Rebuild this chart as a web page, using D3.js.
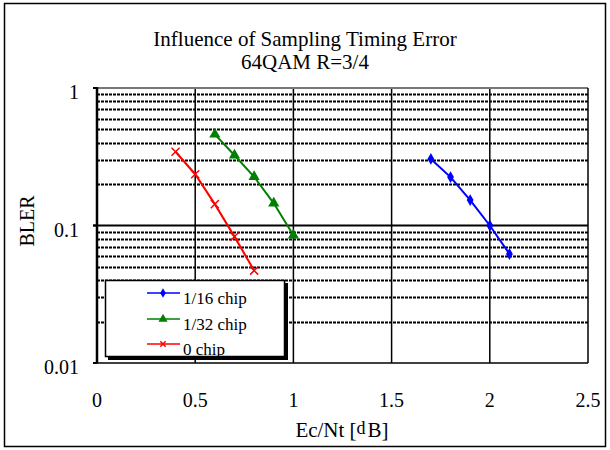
<!DOCTYPE html>
<html>
<head>
<meta charset="utf-8" />
<script src="https://d3js.org/d3.v7.min.js"></script>
<style>
  body, html { margin: 0; padding: 0; background: #fff; }
</style>
</head>
<body>
<div id="chart"></div>
<script>
// data
const xTicks = [0, 0.5, 1, 1.5, 2, 2.5];
const yTicks = [0.01, 0.1, 1];
const yTickLabels = ["0.01", "0.1", "1"];

const seriesNames = ["1/16 chip", "1/32 chip", "0 chip"];
const seriesColors = ["#0000ff", "#008000", "#ff0000"];
const seriesShapes = ["diamond", "triangle", "cross"];

const x16 = [1.7, 1.8, 1.9, 2.0, 2.1];
const y16 = [0.305, 0.225, 0.153, 0.100, 0.062];
const x32 = [0.6, 0.7, 0.8, 0.9, 1.0];
const y32 = [0.46, 0.324, 0.226, 0.145, 0.085];
const x0 = [0.4, 0.5, 0.6, 0.7, 0.8];
const y0 = [0.344, 0.236, 0.143, 0.083, 0.047];

const series = [
    { name: seriesNames[0], color: seriesColors[0], shape: seriesShapes[0], pts: x16.map((v, i) => [v, y16[i]]) },
    { name: seriesNames[1], color: seriesColors[1], shape: seriesShapes[1], pts: x32.map((v, i) => [v, y32[i]]) },
    { name: seriesNames[2], color: seriesColors[2], shape: seriesShapes[2], pts: x0.map((v, i) => [v, y0[i]]) },
];

const W = 610, H = 450;
const pLeft = 97, pRight = 588, pTop = 88, pBottom = 363;
const FONT = "'Liberation Serif', 'Times New Roman', 'DejaVu Serif', serif";

const svg = d3.select("#chart").append("svg")
    .attr("width", W).attr("height", H)
    .attr("font-family", FONT);

// outer frame
svg.append("rect")
    .attr("x", 4.5).attr("y", 3.5)
    .attr("width", 601).attr("height", 443)
    .attr("fill", "#fff").attr("stroke", "#000").attr("stroke-width", 1.5);

const x = d3.scaleLinear().domain([0, 2.5]).range([pLeft, pRight]);
const y = d3.scaleLog().domain([0.01, 1]).range([pBottom, pTop]);

// title
svg.append("text").attr("x", 305).attr("y", 46).attr("text-anchor", "middle")
    .attr("font-size", 21).text("Influence of Sampling Timing Error");
svg.append("text").attr("x", 305).attr("y", 69).attr("text-anchor", "middle")
    .attr("font-size", 21).text("64QAM R=3/4");

const grid = svg.append("g");

// minor horizontal dashed gridlines
const minor = [];
[0.01, 0.1].forEach(dec => {
    for (let k = 2; k <= 9; k++) minor.push(dec * k);
});
grid.selectAll("line.minor").data(minor).enter().append("line")
    .attr("class", "minor")
    .attr("x1", pLeft).attr("x2", pRight)
    .attr("y1", d => Math.round(y(d)) + 0.5).attr("y2", d => Math.round(y(d)) + 0.5)
    .attr("stroke", "#000").attr("stroke-width", 2)
    .attr("stroke-dasharray", "3,1");

// major horizontal line at 0.1
grid.append("line")
    .attr("x1", pLeft - 4).attr("x2", pRight)
    .attr("y1", y(0.1)).attr("y2", y(0.1))
    .attr("stroke", "#000").attr("stroke-width", 2);

// vertical gridlines
grid.selectAll("line.v").data(xTicks.slice(1, -1)).enter().append("line")
    .attr("class", "v")
    .attr("x1", d => x(d)).attr("x2", d => x(d))
    .attr("y1", pTop).attr("y2", pBottom)
    .attr("stroke", "#000").attr("stroke-width", 1.5);

// plot borders
grid.append("line").attr("x1", pLeft).attr("x2", pRight).attr("y1", pTop).attr("y2", pTop)
    .attr("stroke", "#777").attr("stroke-width", 2);
grid.append("line").attr("x1", pRight).attr("x2", pRight).attr("y1", pTop).attr("y2", pBottom)
    .attr("stroke", "#000").attr("stroke-width", 1.5);
grid.append("line").attr("x1", pLeft).attr("x2", pRight).attr("y1", pBottom).attr("y2", pBottom)
    .attr("stroke", "#000").attr("stroke-width", 1.5);
grid.append("line").attr("x1", pLeft).attr("x2", pLeft).attr("y1", pTop - 1).attr("y2", pBottom)
    .attr("stroke", "#000").attr("stroke-width", 2.5);
// small tick marks on left axis
grid.selectAll("line.yt").data(yTicks).enter().append("line")
    .attr("x1", pLeft - 4).attr("x2", pLeft)
    .attr("y1", d => y(d)).attr("y2", d => y(d))
    .attr("stroke", "#000").attr("stroke-width", 2);

// tick labels
svg.selectAll("text.yl").data(yTicks).enter().append("text")
    .attr("x", 79).attr("y", d => y(d) + 11)
    .attr("text-anchor", "end").attr("font-size", 20)
    .text((d, i) => yTickLabels[i]);
svg.selectAll("text.xl").data(xTicks).enter().append("text")
    .attr("x", d => x(d)).attr("y", 407)
    .attr("text-anchor", "middle").attr("font-size", 20)
    .text(d => d);

// axis titles
const xt = svg.append("text").attr("x", 342).attr("y", 437)
    .attr("text-anchor", "middle").attr("font-size", 21);
xt.append("tspan").text("Ec/Nt [");
xt.append("tspan").attr("dy", -3).attr("font-size", 18).text("d");
xt.append("tspan").attr("dy", 3).attr("dx", 2).text("B]");
svg.append("text")
    .attr("transform", "translate(34,221) rotate(-90)")
    .attr("text-anchor", "middle").attr("font-size", 20).text("BLER");

// markers
function drawMarker(g, shape, color, size) {
    if (shape === "diamond") {
        g.append("path").attr("d", d3.symbol(d3.symbolDiamond, size * 9)())
            .attr("fill", color);
    } else if (shape === "triangle") {
        g.append("path").attr("d", d3.symbol(d3.symbolTriangle, size * 12)())
            .attr("fill", color);
    } else {
        const s = size * 0.9;
        g.append("path").attr("d", `M${-s},${-s}L${s},${s}M${-s},${s}L${s},${-s}`)
            .attr("stroke", color).attr("stroke-width", 1.5).attr("fill", "none");
    }
}

const line = d3.line().x(d => x(d[0])).y(d => y(d[1]));
series.forEach(s => {
    svg.append("path").datum(s.pts)
        .attr("d", line)
        .attr("fill", "none").attr("stroke", s.color).attr("stroke-width", 2);
    s.pts.forEach(p => {
        const g = svg.append("g").attr("transform", `translate(${x(p[0])},${y(p[1])})`);
        drawMarker(g, s.shape, s.color, 4.5);
    });
});

// legend
const lg = svg.append("g");
lg.append("rect").attr("x", 108).attr("y", 283).attr("width", 180).attr("height", 77)
    .attr("fill", "#000");
lg.append("rect").attr("x", 105.5).attr("y", 280.5).attr("width", 179).attr("height", 76)
    .attr("fill", "#fff").attr("stroke", "#000").attr("stroke-width", 1.5);
const legendY = [293, 319, 344];
series.forEach((s, i) => {
    lg.append("line").attr("x1", 147).attr("x2", 180)
        .attr("y1", legendY[i]).attr("y2", legendY[i])
        .attr("stroke", s.color).attr("stroke-width", 1.5);
    const g = lg.append("g").attr("transform", `translate(163,${legendY[i]})`);
    drawMarker(g, s.shape, s.color, 3);
    lg.append("text").attr("x", 183).attr("y", legendY[i] + 11)
        .attr("font-size", 17).text(s.name);
});
</script>
</body>
</html>
